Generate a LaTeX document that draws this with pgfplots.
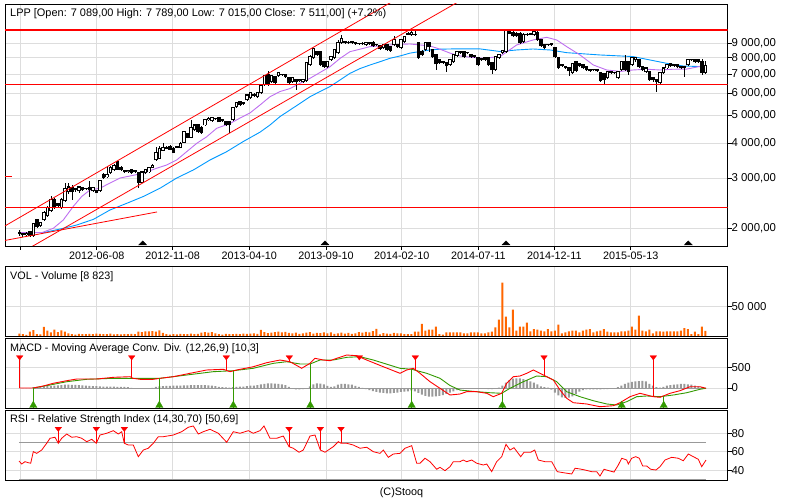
\documentclass[border=0pt]{standalone}
\usepackage{fontspec}
\setmainfont{Liberation Sans}
\usepackage{pgfplots}
\usepackage{pgfplotstable}
\pgfplotsset{compat=1.18}
\definecolor{gridc}{RGB}{221,221,221}
\definecolor{maP}{RGB}{190,110,240}
\definecolor{maB}{RGB}{0,153,255}
\definecolor{volc}{RGB}{255,102,0}
\definecolor{sigc}{RGB}{51,153,0}
\definecolor{histc}{RGB}{153,153,153}
\newcommand{\tfont}{\fontsize{10.8}{13}\selectfont}
\newcommand{\hfont}{\fontsize{10.95}{13}\selectfont}
\newcommand{\xfont}{\fontsize{10.8}{13}\selectfont}
\newcommand{\yfont}{\fontsize{11.4}{13}\selectfont}

\pgfplotstableread{
O H L C V M
1925 1972 1879 1930 3900 0
1910 1925 1864 1894 3400 0
1894 1941 1879 1914 2000 0
1941 1957 1864 1879 7300 0
1879 2089 1864 2072 10200 20
2140 2158 2006 2022 3400 30
2039 2106 2022 2089 2600 36
2140 2302 2123 2265 15400 40
2211 2398 2193 2359 9000 45
2302 2601 2284 2518 6300 50
2518 2559 2340 2378 10700 55
2437 2457 2378 2398 6800 65
2359 2559 2340 2518 9500 72
2498 2891 2477 2753 7500 80
2687 2891 2644 2798 4600 80
2776 2844 2518 2687 3400 78
2731 2776 2687 2753 2500 75
2709 2821 2665 2798 3800 72
2776 2798 2709 2731 3400 65
2753 2776 2731 2760 3000 55
2776 2938 2580 2731 3600 50
2709 2798 2687 2776 3400 48
2709 2731 2655 2665 4000 45
2709 2962 2687 2938 3600 40
3110 3136 2986 3011 3000 35
3035 3292 3011 3110 3400 31
3136 3319 3110 3266 4200 31
3213 3373 3187 3346 2800 31
3429 3457 3213 3239 3200 30
3292 3319 3187 3213 2600 28
3187 3213 3136 3161 3400 25
3161 3213 3136 3187 3000 20
3213 3239 3110 3136 3600 5
3187 3213 3136 3161 3000 -10
3136 3161 2776 2914 7500 -17
2914 3187 2891 3161 6800 -17
3136 3239 3110 3213 8000 -15
3161 3292 3136 3266 7700 -10
3292 3373 3266 3346 8200 5
3485 3873 3457 3718 7600 30
3541 3905 3513 3842 9800 40
3779 4001 3749 3873 5400 48
3873 3905 3810 3842 3200 50
3905 3936 3779 3810 2200 52
3842 3873 3688 3718 3400 55
3873 3905 3842 3880 2800 58
3873 4034 3842 4001 3600 60
4034 4412 4001 4376 3000 62
4306 4341 4167 4201 3400 65
4201 4825 4167 4557 4000 70
4448 4670 4412 4632 3200 72
4632 4670 4341 4376 3600 72
4557 4595 4306 4341 5800 72
4632 4864 4595 4825 6400 70
4825 4944 4786 4884 5600 65
4786 4944 4747 4904 6600 55
4864 4904 4825 4870 4400 45
4904 4944 4747 4747 3200 30
4786 4864 4747 4825 2400 20
4747 4786 4595 4632 3600 15
4747 4786 4341 4632 3400 10
4825 5363 4786 5320 3000 20
5363 5586 5320 5540 3800 28
5586 5631 5407 5451 3400 31
5496 5586 5451 5540 4200 35
5677 5960 5631 5912 3600 45
5770 6058 5723 6009 4000 55
5912 6009 5817 5864 4600 60
5817 6058 5770 6009 3800 70
6009 6413 5960 6361 10500 85
6413 6957 6361 6901 6500 100
6957 7187 6361 6413 4800 109
6572 6957 6519 6901 5600 109
6845 6901 6466 6519 6600 105
6901 7129 6845 7071 7400 100
6957 7014 6901 6960 6000 90
6957 7014 6789 6845 7200 70
6789 6845 6466 6519 5200 30
6572 6845 6519 6789 4600 -20
6680 6734 6158 6572 5600 -31
6626 6734 6572 6680 3800 -31
6572 6734 6519 6680 4400 -25
6626 7733 6572 7670 5600 -10
7546 8186 7485 8054 6400 40
7989 8664 7924 8594 4200 90
8388 8457 8120 8186 5400 109
8388 8457 7485 7546 4800 105
7733 7796 7364 7424 6000 90
7424 7796 7364 7733 4400 50
7860 8120 7796 8054 6200 30
7989 8594 7924 8526 3800 40
8320 9246 8253 9023 4400 80
9023 9630 8950 9360 5600 97
9097 9171 8950 9023 4200 97
9023 9171 8950 9060 5200 90
9097 9171 8950 9023 3800 80
9023 9097 8878 8950 4400 50
8950 9023 8878 8990 6400 25
8950 9097 8878 8960 5800 5
8878 9097 8806 9023 7000 -25
9023 9097 8878 8950 6200 -50
9023 9171 8735 8806 8200 -75
8878 8950 8806 8885 12000 -95
8806 8878 8526 8594 2600 -110
8664 8950 8594 8878 4800 -120
8878 8950 8457 8526 4000 -128
8735 8806 8388 8457 3600 -128
8878 9552 8806 9246 5400 -120
8878 8950 8664 8735 4400 -110
8664 9322 8594 9246 4500 -95
9097 9552 9023 9474 3400 -89
9707 9866 9630 9786 3400 -80
9630 10028 9552 9866 3400 -60
9707 9947 9552 9630 7400 -80
9023 9097 7924 7989 7400 -120
8388 8526 8120 8186 20500 -160
8526 9097 8457 9023 9100 -190
9023 9097 8388 8735 10800 -210
8526 8594 7989 8054 10800 -210
8186 8253 7246 7608 15900 -205
7860 7924 7608 7670 3400 -190
7733 7796 7608 7680 2400 -170
7670 7733 7129 7485 6200 -140
7546 7924 7485 7860 6200 -110
7733 8253 7670 8186 6200 -80
8120 8457 8054 8388 6200 -50
8388 8457 8253 8320 6200 -25
8388 8457 7989 8054 4500 -15
8320 8388 8253 8330 4500 -10
8186 8253 7989 8054 6200 -5
8120 8186 7989 8054 6200 -5
7989 8054 7485 7546 6200 -10
7924 7989 7796 7860 4500 -15
7989 8054 7796 7860 4500 -20
7989 8054 7485 7546 6200 -25
7670 7733 7014 7246 7400 -30
7246 8120 7187 8054 14800 -20
7989 8253 7924 8186 27900 10
8320 8526 8253 8457 91000 60
8388 10110 8320 10028 33000 130
9947 10110 9707 9786 14800 190
9866 10028 9474 9552 44900 225
9786 9866 9474 9552 9100 234
9786 9866 8950 9023 15900 230
9097 9786 9023 9707 15900 215
9707 9786 9552 9630 22700 190
9707 9786 9630 9710 8000 160
9630 10070 9552 9947 11900 130
9866 9947 9171 9246 10800 90
9246 9322 8735 8806 9100 40
8878 8950 8594 8664 8000 20
8878 8950 8806 8885 11900 10
8950 9023 8806 8878 8000 -40
8664 8735 7989 8054 9100 -110
7989 8054 7304 7364 19300 -180
7546 7608 7424 7485 4500 -225
7424 7485 7304 7364 6200 -241
7364 7424 6901 7187 8000 -230
7071 7670 7014 7608 9100 -200
7733 7796 7129 7187 9100 -150
7608 7670 7424 7485 6200 -90
7546 7608 7304 7364 9100 -50
7424 7485 7187 7246 10800 -35
7246 7304 7129 7187 11900 -31
7246 7304 7187 7250 6200 -31
7246 7304 7129 7187 8000 -31
7071 7129 6572 6626 9100 -31
7014 7071 6413 6680 11900 -28
6789 7187 6734 7129 7400 -25
7129 7187 7014 7071 6200 -20
7071 7129 7014 7080 6200 -10
6789 7187 6734 7129 6200 20
7246 7796 7187 7733 8000 60
7733 8186 7187 7246 8000 100
7733 7796 6957 7129 9100 130
7546 8054 7485 7989 15900 150
7860 8054 7733 7989 10800 160
7860 7924 7364 7424 34700 165
7424 7485 7187 7246 9100 170
7129 7424 7071 7364 8000 160
7129 7187 6626 6680 10800 100
6789 6845 6572 6680 4500 60
6680 6734 6058 6572 8000 20
6519 7129 6466 7071 8000 10
7071 7424 7014 7364 7400 30
7364 7608 7304 7546 8000 60
7608 7670 7424 7485 8000 70
7546 7608 7424 7485 8000 80
7546 7608 7364 7424 8000 90
7424 7485 7304 7364 9100 97
7424 7485 6845 7364 13600 97
7546 7924 7485 7860 11900 90
7860 7924 7796 7865 3400 80
7860 7924 7670 7733 7400 60
7860 7924 7670 7733 3400 40
7733 7924 6957 7071 15900 20
7089 7789 7015 7511 8823 5
}\candles

\pgfplotstableread{
x p
20 1930
41.7 1930
53.3 2000
63.3 2140
73.3 2390
81.7 2590
90 2731
100 2770
110 2890
120 3010
130 3060
143.3 3130
156.7 3260
166.7 3346
176.7 3485
186.7 3730
196.7 3990
206.7 4210
216.7 4510
230 4690
240 4900
250 5110
260 5450
270 5830
280 6080
290 6230
300 6500
310 6770
320 7100
330 7440
340 7960
350 8410
360 8580
370 8760
380 8810
390 8880
400 8930
410 8950
420 8880
430 8810
440 8580
450 8310
460 8120
470 8040
483 7970
500 8080
516.7 8880
533 9246
546.7 9450
556.7 9246
566.7 8760
580 8186
593.3 7546
606.7 7246
620 7160
633 7246
646.7 7290
660 7246
673.3 7290
686.7 7300
700 7460
706 7485
}\maPtab

\pgfplotstableread{
x p
43.3 1930
63.3 2000
76.7 2054
93.3 2150
110 2321
126.7 2450
143.3 2590
160 2770
176.7 3010
193.3 3213
210 3485
226.7 3730
243.3 4050
260 4370
270 4632
280 4960
290 5233
300 5520
310 5830
320 6080
330 6330
340 6680
350 7050
360 7330
370 7546
380 7750
390 7970
400 8120
410 8310
420 8420
430 8526
440 8580
453.3 8600
480 8600
500 8420
516.7 8526
533 8594
550 8526
566.7 8340
600 8186
633 8080
650 7860
666.7 7650
683 7485
700 7450
706 7450
}\maBtab

\pgfplotsset{
 panel/.style={scale only axis, width=722.7pt, xmin=5, xmax=727.7, anchor=south west,
   axis line style={black, line width=0.9pt},
   xtick={20,96.7,172.7,249.3,326,401.7,478.3,554.3,630.7},
   grid=major, major grid style={gridc, line width=0.8pt},
   ytick pos=right, yticklabel pos=right,
   tick align=outside, major tick length=4pt,
   tick style={black, line width=0.8pt},
   xticklabel style={font=\xfont},
   yticklabel style={font=\yfont, anchor=west, inner sep=0pt, xshift=-0.3pt},
   scaled y ticks=false, clip=true},
 lower/.style={xticklabels={}, xtick style={draw=none}},
 cbar/.style={draw=none, mark=none, forget plot, error bars/.cd, y dir=plus, y explicit, error mark=none},
 sell/.style={red, line width=0.8pt, forget plot},
 buy/.style={sigc, line width=0.8pt, forget plot},
}

\begin{document}
\begin{tikzpicture}
\useasboundingbox (0,0) rectangle (800pt,500pt);

% ---------------- price panel ----------------
\begin{axis}[panel, at={(5pt,254pt)}, height=242pt, ymin=3.2385, ymax=4.09305, xtick pos=left,
 ytick={3.30103,3.47712,3.60206,3.69897,3.77815,3.84510,3.90309,3.95424},
 yticklabels={{2 000,00},{3 000,00},{4 000,00},{5 000,00},{6 000,00},{7 000,00},{8 000,00},{9 000,00}},
 xticklabels={{},2012-06-08,2012-11-08,2013-04-10,2013-09-10,2014-02-10,2014-07-11,2014-12-11,2015-05-13},
 xticklabel style={inner sep=1.5pt}]
\addplot[maB, line width=0.9pt] table[x=x, y expr={log10(\thisrow{p})}] {\maBtab};
\addplot[maP, line width=0.9pt] table[x=x, y expr={log10(\thisrow{p})}] {\maPtab};
% wicks
\addplot[cbar, error bar style={draw=black, line width=0.8pt}]
  table[x expr={19.4+3.5*\coordindex}, y expr={log10(\thisrow{L})}, y error plus expr={log10(\thisrow{H})-log10(\thisrow{L})}] {\candles};
% bodies
\addplot[cbar, error bar style={draw=black, line width=3.3pt}]
  table[x expr={19.4+3.5*\coordindex}, y expr={log10(min(\thisrow{O},\thisrow{C}))-0.00176}, y error plus expr={abs(log10(\thisrow{C})-log10(\thisrow{O}))+0.00353}] {\candles};
\addplot[cbar, error bar style={draw=white, line width=1.5pt}]
  table[x expr={19.4+3.5*\coordindex}, y expr={log10(min(\thisrow{O},\thisrow{C}))+0.00176}, y error plus expr={(\thisrow{C}>\thisrow{O})*max(abs(log10(\thisrow{C})-log10(\thisrow{O}))-0.00353,0)}] {\candles};
% support / resistance and channel
\addplot[red, line width=1.1pt] table[row sep=\\, x=x, y expr={log10(\thisrow{p})}] {x p\\ 5 10028\\ 727.7 10028\\};
\addplot[red, line width=1.1pt] table[row sep=\\, x=x, y expr={log10(\thisrow{p})}] {x p\\ 5 6449\\ 727.7 6449\\};
\addplot[red, line width=0.8pt] table[row sep=\\, x=x, y expr={log10(\thisrow{p})}] {x p\\ 5 2372\\ 727.7 2372\\};
\addplot[red, line width=0.8pt] table[row sep=\\, x=x, y expr={log10(\thisrow{p})}] {x p\\ 5 2039\\ 400 13106\\};
\addplot[red, line width=0.8pt] table[row sep=\\, x=x, y expr={log10(\thisrow{p})}] {x p\\ 31.7 1722\\ 460 12715\\};
\addplot[red, line width=0.8pt] table[row sep=\\, x=x, y expr={log10(\thisrow{p})}] {x p\\ 5 1812\\ 157 2284\\};
\addplot[red, line width=0.8pt] table[row sep=\\, x=x, y expr={log10(\thisrow{p})}] {x p\\ 5 3060\\ 11.7 3060\\};
\addplot[only marks, mark=triangle*, mark size=4.6pt, mark options={draw=black, fill=black, yscale=0.6}]
  table[row sep=\\, x=x, y expr={log10(\thisrow{p})}] {x p\\ 142.7 1766\\ 325 1766\\ 506 1766\\ 688.3 1766\\};
\node[anchor=base west, font=\hfont, inner sep=0pt] at ([xshift=5pt,yshift=-12.4pt]rel axis cs:0,1)
  {LPP [Open: 7 089,00 High: 7 789,00 Low: 7 015,00 Close: 7 511,00] (+7,2\%)};
\end{axis}

% ---------------- volume panel ----------------
\begin{axis}[panel, lower, at={(5pt,164pt)}, height=70pt, ymin=0, ymax=119500,
 ytick={50000}, yticklabels={50 000}]
\addplot[ybar, bar width=2pt, fill=volc, draw=none] table[x expr={19.4+3.5*\coordindex}, y=V] {\candles};
\node[anchor=base west, font=\tfont, inner sep=0pt] at ([xshift=5pt,yshift=-13.4pt]rel axis cs:0,1) {VOL - Volume [8 823]};
\end{axis}

% ---------------- MACD panel ----------------
\begin{axis}[panel, lower, at={(5pt,92pt)}, height=69.3pt, ymin=-483, ymax=1191,
 ytick={0,500}, yticklabels={0,500}]
\addplot[ybar, bar width=2pt, fill=histc, draw=none] table[x expr={19.4+3.5*\coordindex}, y=M] {\candles};
\addplot[histc, line width=0.8pt] coordinates {(33.3,0) (706,0)};
\addplot[sigc, line width=0.9pt] coordinates {(33.3,0) (50,72) (66.7,152) (86.7,210) (113.3,234) (133.3,234) (160,234) (186.7,314) (213.3,394) (233.3,418) (253.3,476) (273.3,596) (286.7,635) (300,580) (310,580) (320,676) (333.3,676) (346.7,741) (360,756) (373.3,676) (400,476) (411.7,452) (426.7,355) (440,234) (450,60) (460,-50) (476.7,-89) (490,-114) (501.7,-128) (510,-7) (523.3,152) (536.7,290) (546.7,273) (556.7,152) (566.7,-89) (580,-210) (593.3,-307) (606.7,-386) (616.7,-411) (626.7,-331) (636.7,-210) (646.7,-193) (660,-210) (673.3,-169) (686.7,-114) (700,-31) (706,-7)};
\addplot[red, line width=0.9pt] coordinates {(19.7,0) (33.3,0) (43.3,48) (53.3,114) (66.7,176) (76.7,217) (96.7,217) (113.3,258) (130,273) (133,234) (140,210) (153.3,210) (160,234) (173.3,273) (190,355) (206.7,435) (223.3,452) (230,394) (236.7,435) (253.3,514) (266.7,611) (280,676) (290,635) (301.7,476) (310,596) (315,717) (323.3,676) (330,659) (336.7,717) (346.7,797) (356.7,780) (366.7,676) (383.3,514) (400,355) (406.7,435) (413.3,476) (420,355) (430,152) (440,-7) (450,-169) (460,-145) (466.7,-89) (476.7,-89) (486.7,-128) (493.3,-210) (501.7,-128) (506.7,114) (513.3,273) (520,290) (526.7,355) (533.3,435) (543.3,314) (553.3,193) (560,-48) (566.7,-249) (573.3,-355) (586.7,-386) (600,-452) (613.3,-427) (620,-355) (630,-210) (640,-128) (653.3,-210) (660,-225) (670,-128) (680,-65) (690,31) (700,31) (706,-7)};
\addplot[sell] coordinates {(19.7,746) (19.7,0)};
\addplot[sell] coordinates {(131.7,746) (131.7,250)};
\addplot[sell] coordinates {(226.3,746) (226.3,420)};
\addplot[sell] coordinates {(289.3,746) (289.3,635)};
\addplot[sell] coordinates {(359.3,746) (359.3,760)};
\addplot[sell] coordinates {(415.3,746) (415.3,440)};
\addplot[sell] coordinates {(544,746) (544,305)};
\addplot[sell] coordinates {(653.3,746) (653.3,-210)};
\addplot[buy] coordinates {(33.3,-483) (33.3,0)};
\addplot[buy] coordinates {(159.3,-483) (159.3,234)};
\addplot[buy] coordinates {(233.3,-483) (233.3,414)};
\addplot[buy] coordinates {(310.3,-483) (310.3,590)};
\addplot[buy] coordinates {(411.7,-483) (411.7,466)};
\addplot[buy] coordinates {(502.3,-483) (502.3,-128)};
\addplot[buy] coordinates {(621.7,-483) (621.7,-340)};
\addplot[buy] coordinates {(663.7,-483) (663.7,-189)};
\addplot[only marks, mark=triangle*, mark size=3.75pt, mark options={draw=red, fill=red, rotate=180, yscale=0.75}]
  coordinates {(19.7,746) (131.7,746) (226.3,746) (289.3,746) (359.3,746) (415.3,746) (544,746) (653.3,746)};
\addplot[only marks, mark=triangle*, mark size=4.2pt, mark options={draw=sigc, fill=sigc}]
  coordinates {(33.3,-420) (159.3,-420) (233.3,-420) (310.3,-420) (411.7,-420) (502.3,-420) (621.7,-420) (663.7,-420)};
\node[anchor=base west, font=\tfont, inner sep=0pt] at ([xshift=5pt,yshift=-12.9pt]rel axis cs:0,1) {MACD - Moving Average Conv. Div. (12,26,9) [10,3]};
\end{axis}

% ---------------- RSI panel ----------------
\begin{axis}[panel, lower, at={(5pt,20pt)}, height=69.3pt, ymin=29.4, ymax=104.3,
 ytick={40,60,80}, yticklabels={40,60,80}]
\addplot[histc, line width=0.8pt] coordinates {(19,70) (706,70)};
\addplot[histc, line width=0.8pt] coordinates {(19,30.2) (706,30.2)};
\addplot[red, line width=0.8pt] coordinates {(19,49.9) (21.7,46.7) (25,49.2) (28.3,48.1) (30.7,47.5) (33.3,60) (36.7,58.2) (41.7,61.8) (46.7,69.1) (50,74.5) (55,75.6) (58.3,69.1) (61.7,74.5) (66.7,79.1) (71.7,75.6) (76.7,76.2) (81.7,74.5) (86.7,70.8) (91.7,73.4) (96.3,69.1) (100,78) (106.7,79.9) (113.3,82.7) (118.3,79.1) (121.7,81.6) (124.3,69.1) (128.3,67.2) (133.3,67.2) (138.3,54.6) (143.3,61.8) (148.3,63.7) (153.3,69.1) (158.3,76.2) (163.3,76.2) (173.3,78) (181.7,81.6) (188.3,86.4) (193.3,87.8) (198.3,79.1) (203.3,81.6) (210,84.2) (218.3,79.9) (226.7,70.2) (233.3,81.6) (240,79.9) (248.3,82.7) (253.3,79.9) (260,82.7) (264,87.8) (270,74.5) (276.7,74.5) (283.3,76.9) (289,65.4) (293.3,63.7) (299,59.4) (303.3,61.8) (310,76.9) (315,78) (320.3,61.8) (325,59.4) (333.3,65.4) (338.3,70.8) (341,69.1) (346.7,69.1) (353.3,67.2) (360,63.7) (366.7,64.8) (373.3,60) (380,58.2) (383.3,61.8) (388.3,53.9) (393.3,57.5) (400,58.2) (405,63.7) (411.7,66.5) (416.7,47.5) (420,47.5) (425,52.9) (430,49.2) (436.7,41) (440,43.1) (445,39.5) (450,43.8) (453.3,49.2) (460,49.2) (463.3,51) (466.7,49.2) (471.7,51) (476.7,47.5) (483.3,45.6) (486.7,46.7) (491.7,38.4) (496.7,49.2) (501.7,54.6) (506,68) (510,61.8) (514,64.3) (520.7,54.6) (524,59.4) (530.7,59.4) (534.7,61.8) (538.3,51) (545,49.2) (551.7,49.2) (557.3,38.4) (563.3,37.3) (571.7,35.9) (575,42.1) (580,41.3) (585,40.2) (591.7,38.4) (596.7,38.4) (600,33.7) (604,41) (610,39.1) (614,38) (618.3,45.6) (621.7,52.9) (626.7,51) (628.3,46.7) (631.7,52.9) (635.7,54.6) (639.3,52.9) (642.7,44.5) (646.7,44.5) (650.7,41) (656,40.2) (660,43.8) (665,51) (671.7,53.9) (678.3,52.9) (683.3,50.2) (688.3,57.5) (693.3,54.6) (698.3,51.8) (701.7,43.8) (706,51)};
\addplot[sell] coordinates {(58.3,84.9) (58.3,69.1)};
\addplot[sell] coordinates {(96.3,84.9) (96.3,69.1)};
\addplot[sell] coordinates {(124.3,84.9) (124.3,69.1)};
\addplot[sell] coordinates {(289,84.9) (289,65.4)};
\addplot[sell] coordinates {(320.3,84.9) (320.3,61.8)};
\addplot[sell] coordinates {(341,84.9) (341,69.1)};
\addplot[only marks, mark=triangle*, mark size=3.75pt, mark options={draw=red, fill=red, rotate=180, yscale=0.75}]
  coordinates {(58.3,84.9) (96.3,84.9) (124.3,84.9) (289,84.9) (320.3,84.9) (341,84.9)};
\node[anchor=base west, font=\tfont, inner sep=0pt] at ([xshift=5pt,yshift=-11.9pt]rel axis cs:0,1) {RSI - Relative Strength Index (14,30,70) [50,69]};
\end{axis}

\node[font=\tfont, anchor=base] at (401.5pt,4pt) {(C)Stooq};
\end{tikzpicture}
\end{document}
